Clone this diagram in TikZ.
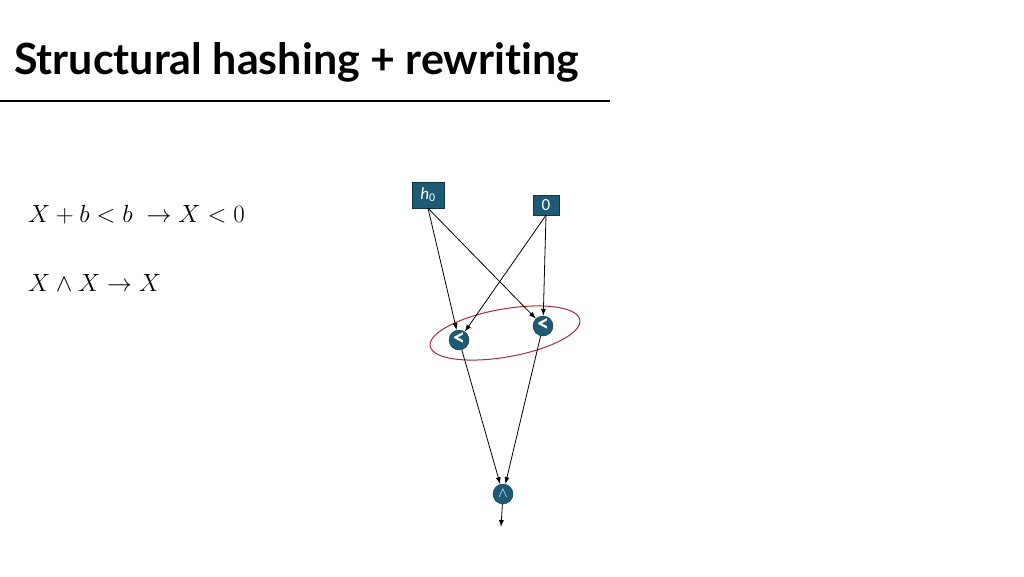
\documentclass[tikz,border=0pt]{standalone}
\usepackage{fontspec}
\setmainfont{Lato}[RawFeature=-liga]
\setsansfont{Carlito}
\usepackage{tikz}
\usetikzlibrary{arrows.meta, positioning}
\definecolor{colorGate}{RGB}{29,90,116}
\definecolor{colorMark}{RGB}{165,45,55}
\tikzset{
  gate/.style={circle, fill=colorGate, draw=colorGate!60!black, minimum size=20pt, inner sep=0pt, text=white, font=\sffamily\bfseries\fontsize{24}{24}\selectfont},
  input/.style={rectangle, fill=colorGate, draw=colorGate!60!black, inner sep=0pt, text=white, font=\sffamily\fontsize{17}{17}\selectfont},
  wire/.style={-{Latex[length=7pt, width=5pt]}, line width=0.8pt},
}

\begin{document}
\begin{tikzpicture}[x=1pt, y=-1pt]
\useasboundingbox (0,0) rectangle (1024,576);
\node[anchor=base west, inner sep=0pt, font=\bfseries\fontsize{43}{43}\selectfont] (title) at (14,74) {Structural hashing + rewriting};
\draw[line width=2.5pt] (0,101) -- (610,101);
\node[anchor=base west, inner sep=0pt, font=\fontsize{24}{24}\selectfont] (rule1) at (28,222) {$X+b<b\;\to X<0$};
\node[anchor=base west, inner sep=0pt, font=\fontsize{24}{24}\selectfont] (rule2) at (28,291) {$X\wedge X\to X$};
\node[input, minimum width=32pt, minimum height=26pt] (h0) at (428,195) {\raisebox{3pt}{\textit{h}\textsubscript{0}}};
\node[input, minimum width=26pt, minimum height=20pt] (c0) at (546,205) {0};
\node[gate] (lt1) at (459,340) {\raisebox{1pt}{<}};
\node[gate] (lt2) at (543,326) {\raisebox{1pt}{<}};
\node[gate, font=\fontsize{15}{15}\selectfont] (and) at (503,494) {\raisebox{1pt}{$\wedge$}};
\coordinate (out) at (501,527);
\draw[colorMark, line width=1pt, rotate around={10:(505,333)}] (505,333) ellipse [x radius=76, y radius=24];
\draw [wire] (h0.south) -- (lt1);
\draw [wire] (h0.south) -- (lt2);
\draw [wire] (c0.south) -- (lt1);
\draw [wire] (c0.south) -- (lt2);
\draw [wire] (lt1) -- (and);
\draw [wire] (lt2) -- (and);
\draw [wire] (and) -- (out);
\end{tikzpicture}
\end{document}
